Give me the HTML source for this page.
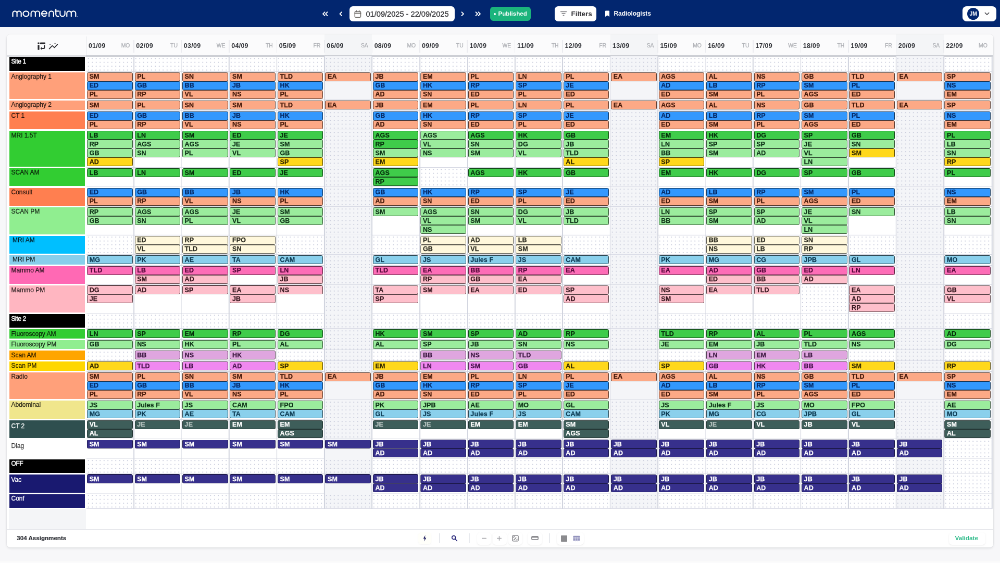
<!DOCTYPE html>
<html><head><meta charset="utf-8"><title>momentum</title><style>

html,body{margin:0;padding:0;background:#f7f7f9;}
body{width:1000px;height:563px;overflow:hidden;position:relative;font-family:"Liberation Sans",sans-serif;}
#root{position:absolute;left:0;top:0;width:1920px;height:1081px;transform:scale(0.520833);transform-origin:0 0;will-change:transform;}
#root div,#root span{position:absolute;box-sizing:border-box;}
.nav{left:0;top:0;width:1920px;height:52.2px;background:#02266f;}
.card{background:#fff;border-radius:6.5px;box-shadow:0 2px 5px rgba(20,25,40,.10),0 0 1.5px rgba(20,25,40,.16);}
.lab{left:18.0px;width:144.8px;font-size:12px;line-height:14px;padding:1.4px 0 0 3.5px;-webkit-text-stroke:0.3px;white-space:nowrap;overflow:hidden;}
.lab.dark{color:rgba(0,0,0,.78);}
.lab.b{font-size:12px;letter-spacing:-0.4px;-webkit-text-stroke:0.5px;}
.c{height:17.0px;width:87.5px;border:1px solid;border-radius:2.5px;font-size:12.5px;line-height:15px;font-weight:bold;padding:0.6px 0 0 3.6px;white-space:nowrap;overflow:hidden;letter-spacing:0.1px;-webkit-text-stroke:0.25px}
.cell{width:91.46px;}
.dots{background-image:radial-gradient(circle,#cbcedd 0.8px,rgba(203,206,221,0) 1.25px);background-size:7.5px 7.4px;}
.sat{background-color:#f4f5f8;}
.vl{width:1.7px;background:#d1d4de;}
.hl{height:1.1px;background:#d9dbe5;}
.hd{font-size:12.5px;font-weight:bold;color:#2f3136;line-height:14px;letter-spacing:0.25px;}
.hw{font-size:10.4px;color:#b0b2b7;-webkit-text-stroke:0.3px;line-height:14px;text-align:right;}

.cS{background:#fca986;border-color:#5a3c30;color:#45190a;}
.cB{background:#3398fd;border-color:#12365b;color:#052a66;}
.cG{background:#3fcc4a;border-color:#16491a;color:#062e0c;}
.cL{background:#9bec9d;border-color:#375438;color:#0f3318;}
.cY{background:#ffd81c;border-color:#5b4d0a;color:#332a00;}
.cC{background:#fff8dc;border-color:#5b594f;color:#2e2d22;}
.cK{background:#8ad0ec;border-color:#314a54;color:#0c3a52;}
.cH{background:#fd6db7;border-color:#5b2741;color:#55083a;}
.cP{background:#febfcb;border-color:#5b4449;color:#3a1a22;}
.cM{background:#dfa6df;border-color:#503b50;color:#3d1a42;}
.cV{background:#f088f0;border-color:#563056;color:#45124a;}
.cD{background:#3e5e5a;border-color:#223331;color:#ffffff;}
.cN{background:#37308c;border-color:#1e1a4d;color:#ffffff;}
</style></head><body><div id="root">
<div class="nav"></div>
<svg style="position:absolute;left:0;top:0;" width="170" height="52" viewBox="0 0 170 52" fill="none" stroke="#fff" stroke-width="2.15" stroke-linecap="round" stroke-linejoin="round">
<path d="M24.5 31.4V25.35a4.05 4.05 0 0 1 8.1 0V31.4M32.6 25.35a4.05 4.05 0 0 1 8.1 0V31.4"/>
<ellipse cx="49.9" cy="26.35" rx="5.5" ry="5.05"/>
<path d="M59.6 31.4V25.4a4.12 4.12 0 0 1 8.25 0V31.4M67.85 25.4a4.12 4.12 0 0 1 8.25 0V31.4"/>
<path d="M80 26.35H90A5.05 5.05 0 1 0 88.4 30"/>
<path d="M94.2 31.4V25.65a4.35 4.35 0 0 1 8.7 0V31.4"/>
<path d="M107.2 17.8V27.6a3.8 3.8 0 0 0 3.8 3.8H112.4M105.9 21.4H112.4"/>
<path d="M115.3 21.3V26.75a4.65 4.65 0 0 0 9.3 0V21.3"/>
<path d="M128.3 31.4V25.55a4.25 4.25 0 0 1 8.5 0V31.4M136.8 25.55a4.25 4.25 0 0 1 8.5 0V31.4"/>
<circle cx="148.3" cy="31.8" r="0.3" stroke-width="0.8" stroke="#8fa0cc"/>
</svg>
<!-- nav arrows -->
<svg style="position:absolute;left:600px;top:0;" width="340" height="52" viewBox="600 0 340 52" fill="none" stroke="#fff" stroke-width="1.9" stroke-linecap="round" stroke-linejoin="round">
<path d="M623.5 23.2L620 26.6L623.5 30M628.5 23.2L625 26.6L628.5 30"/>
<path d="M656 23.2L652.5 26.6L656 30"/>
<path d="M886.5 23.2L890 26.6L886.5 30"/>
<path d="M913.5 23.2L917 26.6L913.5 30M918.5 23.2L922 26.6L918.5 30"/>
</svg>
<div style="left:670.5px;top:12px;width:202.5px;height:28.5px;background:#fff;border-radius:6.5px;"></div>
<svg style="position:absolute;left:680px;top:19.2px;" width="14" height="16" viewBox="0 0 14 16" fill="none" stroke="#6e6a66" stroke-width="1.5" stroke-linejoin="round" stroke-linecap="round"><rect x="1.3" y="3" width="11.2" height="11.2" rx="1.6"/><path d="M1.3 6.4H12.5" stroke-width="1.8"/><path d="M4.2 1.3V3.4M9.6 1.3V3.4"/></svg>
<div style="left:702.5px;top:17.5px;font-size:14.6px;line-height:18px;color:#3a3a3d;white-space:nowrap;-webkit-text-stroke:0.35px #3a3a3d;">01/09/2025 - 22/09/2025</div>
<div style="left:940.5px;top:13px;width:78.5px;height:27px;background:#1bb47c;border-radius:6px;"></div>
<div style="left:947.5px;top:24.6px;width:4.2px;height:4.2px;border-radius:50%;background:#fff;"></div>
<div style="left:956.5px;top:18px;font-size:11.6px;line-height:16px;font-weight:bold;color:#fff;white-space:nowrap;">Published</div>
<div style="left:1065px;top:12px;width:80px;height:28.5px;background:#fff;border-radius:6.5px;"></div>
<svg style="position:absolute;left:1075px;top:20px;" width="14" height="12" viewBox="0 0 14 12" fill="none" stroke="#77777c" stroke-width="1.5" stroke-linecap="round"><path d="M1.6 2.4H12.4M4 6H10M6.2 9.6H7.8"/></svg>
<div style="left:1096.5px;top:17.5px;font-size:13.4px;line-height:18px;font-weight:bold;color:#2e2e33;white-space:nowrap;">Filters</div>
<svg style="position:absolute;left:1161px;top:20px;" width="10" height="13" viewBox="0 0 10 13"><path d="M1 1.6a1.2 1.2 0 0 1 1.2-1.2H7.8a1.2 1.2 0 0 1 1.2 1.2V12L5 9.6L1 12Z" fill="#fff"/></svg>
<div style="left:1178.5px;top:18px;font-size:11.9px;line-height:17px;font-weight:bold;color:#fff;white-space:nowrap;">Radiologists</div>
<div style="left:1848px;top:12px;width:64.5px;height:28.5px;background:#fff;border-radius:8px;"></div>
<div style="left:1857px;top:14.8px;width:23.2px;height:23.2px;border-radius:50%;background:#02266f;color:#fff;font-size:10.4px;font-weight:bold;line-height:23.2px;text-align:center;">JM</div>
<svg style="position:absolute;left:1889px;top:22px;" width="12" height="9" viewBox="0 0 12 9" fill="none" stroke="#55555a" stroke-width="1.7" stroke-linecap="round" stroke-linejoin="round"><path d="M2.4 2.6L6 6.1L9.6 2.6"/></svg>

<div class="card" style="left:13.2px;top:66.0px;width:1893.6px;height:985.2px;"></div>
<div style="left:13.2px;top:66.0px;width:1893.6px;height:40.6px;background:#fbfbfc;border-radius:6.5px 6.5px 0 0;"></div>
<div style="left:164.70px;top:70.0px;width:1.6px;height:37.0px;background:#e4e5e9;"></div>
<div class="hd" style="left:169.90px;top:80.5px;">01/09</div>
<div class="hw" style="left:219.46px;top:81.0px;width:30px;">MO</div>
<div style="left:256.26px;top:77.0px;width:1.5px;height:24.0px;background:#ebecf0;"></div>
<div class="hd" style="left:261.36px;top:80.5px;">02/09</div>
<div class="hw" style="left:310.92px;top:81.0px;width:30px;">TU</div>
<div style="left:347.72px;top:77.0px;width:1.5px;height:24.0px;background:#ebecf0;"></div>
<div class="hd" style="left:352.82px;top:80.5px;">03/09</div>
<div class="hw" style="left:402.38px;top:81.0px;width:30px;">WE</div>
<div style="left:439.18px;top:77.0px;width:1.5px;height:24.0px;background:#ebecf0;"></div>
<div class="hd" style="left:444.28px;top:80.5px;">04/09</div>
<div class="hw" style="left:493.84px;top:81.0px;width:30px;">TH</div>
<div style="left:530.64px;top:77.0px;width:1.5px;height:24.0px;background:#ebecf0;"></div>
<div class="hd" style="left:535.74px;top:80.5px;">05/09</div>
<div class="hw" style="left:585.30px;top:81.0px;width:30px;">FR</div>
<div style="left:622.80px;top:66.0px;width:91.46px;height:40.6px;background:#f4f5f7;"></div>
<div style="left:622.10px;top:77.0px;width:1.5px;height:24.0px;background:#ebecf0;"></div>
<div class="hd" style="left:627.20px;top:80.5px;">06/09</div>
<div class="hw" style="left:676.76px;top:81.0px;width:30px;">SA</div>
<div style="left:713.56px;top:77.0px;width:1.5px;height:24.0px;background:#ebecf0;"></div>
<div class="hd" style="left:718.66px;top:80.5px;">08/09</div>
<div class="hw" style="left:768.22px;top:81.0px;width:30px;">MO</div>
<div style="left:805.02px;top:77.0px;width:1.5px;height:24.0px;background:#ebecf0;"></div>
<div class="hd" style="left:810.12px;top:80.5px;">09/09</div>
<div class="hw" style="left:859.68px;top:81.0px;width:30px;">TU</div>
<div style="left:896.48px;top:77.0px;width:1.5px;height:24.0px;background:#ebecf0;"></div>
<div class="hd" style="left:901.58px;top:80.5px;">10/09</div>
<div class="hw" style="left:951.14px;top:81.0px;width:30px;">WE</div>
<div style="left:987.94px;top:77.0px;width:1.5px;height:24.0px;background:#ebecf0;"></div>
<div class="hd" style="left:993.04px;top:80.5px;">11/09</div>
<div class="hw" style="left:1042.60px;top:81.0px;width:30px;">TH</div>
<div style="left:1079.40px;top:77.0px;width:1.5px;height:24.0px;background:#ebecf0;"></div>
<div class="hd" style="left:1084.50px;top:80.5px;">12/09</div>
<div class="hw" style="left:1134.06px;top:81.0px;width:30px;">FR</div>
<div style="left:1171.56px;top:66.0px;width:91.46px;height:40.6px;background:#f4f5f7;"></div>
<div style="left:1170.86px;top:77.0px;width:1.5px;height:24.0px;background:#ebecf0;"></div>
<div class="hd" style="left:1175.96px;top:80.5px;">13/09</div>
<div class="hw" style="left:1225.52px;top:81.0px;width:30px;">SA</div>
<div style="left:1262.32px;top:77.0px;width:1.5px;height:24.0px;background:#ebecf0;"></div>
<div class="hd" style="left:1267.42px;top:80.5px;">15/09</div>
<div class="hw" style="left:1316.98px;top:81.0px;width:30px;">MO</div>
<div style="left:1353.78px;top:77.0px;width:1.5px;height:24.0px;background:#ebecf0;"></div>
<div class="hd" style="left:1358.88px;top:80.5px;">16/09</div>
<div class="hw" style="left:1408.44px;top:81.0px;width:30px;">TU</div>
<div style="left:1445.24px;top:77.0px;width:1.5px;height:24.0px;background:#ebecf0;"></div>
<div class="hd" style="left:1450.34px;top:80.5px;">17/09</div>
<div class="hw" style="left:1499.90px;top:81.0px;width:30px;">WE</div>
<div style="left:1536.70px;top:77.0px;width:1.5px;height:24.0px;background:#ebecf0;"></div>
<div class="hd" style="left:1541.80px;top:80.5px;">18/09</div>
<div class="hw" style="left:1591.36px;top:81.0px;width:30px;">TH</div>
<div style="left:1628.16px;top:77.0px;width:1.5px;height:24.0px;background:#ebecf0;"></div>
<div class="hd" style="left:1633.26px;top:80.5px;">19/09</div>
<div class="hw" style="left:1682.82px;top:81.0px;width:30px;">FR</div>
<div style="left:1720.32px;top:66.0px;width:91.46px;height:40.6px;background:#f4f5f7;"></div>
<div style="left:1719.62px;top:77.0px;width:1.5px;height:24.0px;background:#ebecf0;"></div>
<div class="hd" style="left:1724.72px;top:80.5px;">20/09</div>
<div class="hw" style="left:1774.28px;top:81.0px;width:30px;">SA</div>
<div style="left:1811.08px;top:77.0px;width:1.5px;height:24.0px;background:#ebecf0;"></div>
<div class="hd" style="left:1816.18px;top:80.5px;">22/09</div>
<div class="hw" style="left:1865.74px;top:81.0px;width:30px;">MO</div>
<svg style="position:absolute;left:71px;top:80px;" width="18" height="18" viewBox="0 0 18 18" fill="#2a2a2e"><rect x="1.4" y="1.6" width="3.2" height="3.2" rx=".5"/><rect x="6" y="1.6" width="10" height="3.2" rx=".8"/><rect x="1.4" y="6.2" width="3.2" height="9.6" rx=".8"/><path d="M13.2 6.4h2v5.6a2 2 0 0 1-2 2H9.6v1.9L6.4 13l3.2-2.9V12h3.6Z"/><path d="M12.3 9.5L14.2 7l1.9 2.5Z" transform="translate(0 1.2)"/></svg>
<svg style="position:absolute;left:92px;top:80px;" width="22" height="18" viewBox="0 0 22 18" fill="none" stroke="#2a2a2e" stroke-width="1.7" stroke-linecap="round" stroke-linejoin="round"><path d="M2.6 13.6L8.4 7.6L12.4 11.4L18.4 5.2"/><circle cx="13.4" cy="3.2" r=".5" stroke-width="1"/><circle cx="4" cy="5.4" r=".3" stroke-width=".8"/></svg>
<div style="left:13.2px;top:106.2px;width:152.3px;height:2.6px;background:#dedfe3;"></div>
<div style="left:164.5px;top:106.2px;width:1741.1px;height:2.8px;background:#cdcfd5;"></div>
<div class="lab b" style="top:109.20px;height:26.55px;background:#000000;color:#ffffff;padding-top:1.4px;">Site 1</div>
<div class="cell dots" style="left:165.50px;top:107.70px;height:29.55px;background-position:0.0px 0.6px;"></div>
<div class="cell dots" style="left:256.96px;top:107.70px;height:29.55px;background-position:0.0px 0.6px;"></div>
<div class="cell dots" style="left:348.42px;top:107.70px;height:29.55px;background-position:0.0px 0.6px;"></div>
<div class="cell dots" style="left:439.88px;top:107.70px;height:29.55px;background-position:0.0px 0.6px;"></div>
<div class="cell dots" style="left:531.34px;top:107.70px;height:29.55px;background-position:0.0px 0.6px;"></div>
<div class="cell dots sat" style="left:622.80px;top:107.70px;height:29.55px;background-position:0.0px 0.6px;"></div>
<div class="cell dots" style="left:714.26px;top:107.70px;height:29.55px;background-position:0.0px 0.6px;"></div>
<div class="cell dots" style="left:805.72px;top:107.70px;height:29.55px;background-position:0.0px 0.6px;"></div>
<div class="cell dots" style="left:897.18px;top:107.70px;height:29.55px;background-position:0.0px 0.6px;"></div>
<div class="cell dots" style="left:988.64px;top:107.70px;height:29.55px;background-position:0.0px 0.6px;"></div>
<div class="cell dots" style="left:1080.10px;top:107.70px;height:29.55px;background-position:0.0px 0.6px;"></div>
<div class="cell dots sat" style="left:1171.56px;top:107.70px;height:29.55px;background-position:0.0px 0.6px;"></div>
<div class="cell dots" style="left:1263.02px;top:107.70px;height:29.55px;background-position:0.0px 0.6px;"></div>
<div class="cell dots" style="left:1354.48px;top:107.70px;height:29.55px;background-position:0.0px 0.6px;"></div>
<div class="cell dots" style="left:1445.94px;top:107.70px;height:29.55px;background-position:0.0px 0.6px;"></div>
<div class="cell dots" style="left:1537.40px;top:107.70px;height:29.55px;background-position:0.0px 0.6px;"></div>
<div class="cell dots" style="left:1628.86px;top:107.70px;height:29.55px;background-position:0.0px 0.6px;"></div>
<div class="cell dots sat" style="left:1720.32px;top:107.70px;height:29.55px;background-position:0.0px 0.6px;"></div>
<div class="cell dots" style="left:1811.78px;top:107.70px;height:29.55px;background-position:0.0px 0.6px;width:92.86px;"></div>
<div class="hl" style="left:165.50px;top:136.65px;width:1739.14px;"></div>
<div class="lab dark" style="top:138.75px;height:51.55px;background:lightsalmon;">Angiography 1</div>
<div class="c cS" style="left:167.10px;top:138.75px;">SM</div>
<div class="c cB" style="left:167.10px;top:155.75px;">ED</div>
<div class="c cS" style="left:167.10px;top:172.75px;">PL</div>
<div class="c cS" style="left:258.56px;top:138.75px;">PL</div>
<div class="c cB" style="left:258.56px;top:155.75px;">GB</div>
<div class="c cS" style="left:258.56px;top:172.75px;">RP</div>
<div class="c cS" style="left:350.02px;top:138.75px;">SN</div>
<div class="c cB" style="left:350.02px;top:155.75px;">BB</div>
<div class="c cS" style="left:350.02px;top:172.75px;">VL</div>
<div class="c cS" style="left:441.48px;top:138.75px;">SM</div>
<div class="c cB" style="left:441.48px;top:155.75px;">JB</div>
<div class="c cS" style="left:441.48px;top:172.75px;">NS</div>
<div class="c cS" style="left:532.94px;top:138.75px;">TLD</div>
<div class="c cB" style="left:532.94px;top:155.75px;">HK</div>
<div class="c cS" style="left:532.94px;top:172.75px;">PL</div>
<div class="cell sat" style="left:622.80px;top:137.25px;height:54.55px;background-position:0.0px 0.6px;"></div>
<div class="c cS" style="left:624.40px;top:138.75px;">EA</div>
<div class="c cS" style="left:715.86px;top:138.75px;">JB</div>
<div class="c cB" style="left:715.86px;top:155.75px;">GB</div>
<div class="c cS" style="left:715.86px;top:172.75px;">AD</div>
<div class="c cS" style="left:807.32px;top:138.75px;">EM</div>
<div class="c cB" style="left:807.32px;top:155.75px;">HK</div>
<div class="c cS" style="left:807.32px;top:172.75px;">SN</div>
<div class="c cS" style="left:898.78px;top:138.75px;">PL</div>
<div class="c cB" style="left:898.78px;top:155.75px;">RP</div>
<div class="c cS" style="left:898.78px;top:172.75px;">ED</div>
<div class="c cS" style="left:990.24px;top:138.75px;">LN</div>
<div class="c cB" style="left:990.24px;top:155.75px;">SP</div>
<div class="c cS" style="left:990.24px;top:172.75px;">PL</div>
<div class="c cS" style="left:1081.70px;top:138.75px;">PL</div>
<div class="c cB" style="left:1081.70px;top:155.75px;">JE</div>
<div class="c cS" style="left:1081.70px;top:172.75px;">ED</div>
<div class="cell sat" style="left:1171.56px;top:137.25px;height:54.55px;background-position:0.0px 0.6px;"></div>
<div class="c cS" style="left:1173.16px;top:138.75px;">EA</div>
<div class="c cS" style="left:1264.62px;top:138.75px;">AGS</div>
<div class="c cB" style="left:1264.62px;top:155.75px;">AD</div>
<div class="c cS" style="left:1264.62px;top:172.75px;">ED</div>
<div class="c cS" style="left:1356.08px;top:138.75px;">AL</div>
<div class="c cB" style="left:1356.08px;top:155.75px;">LB</div>
<div class="c cS" style="left:1356.08px;top:172.75px;">SM</div>
<div class="c cS" style="left:1447.54px;top:138.75px;">NS</div>
<div class="c cB" style="left:1447.54px;top:155.75px;">RP</div>
<div class="c cS" style="left:1447.54px;top:172.75px;">PL</div>
<div class="c cS" style="left:1539.00px;top:138.75px;">GB</div>
<div class="c cB" style="left:1539.00px;top:155.75px;">SM</div>
<div class="c cS" style="left:1539.00px;top:172.75px;">AGS</div>
<div class="c cS" style="left:1630.46px;top:138.75px;">TLD</div>
<div class="c cB" style="left:1630.46px;top:155.75px;">PL</div>
<div class="c cS" style="left:1630.46px;top:172.75px;">ED</div>
<div class="cell sat" style="left:1720.32px;top:137.25px;height:54.55px;background-position:0.0px 0.6px;"></div>
<div class="c cS" style="left:1721.92px;top:138.75px;">EA</div>
<div class="c cS" style="left:1813.38px;top:138.75px;width:88.90px;">SP</div>
<div class="c cB" style="left:1813.38px;top:155.75px;width:88.90px;">NS</div>
<div class="c cS" style="left:1813.38px;top:172.75px;width:88.90px;">EM</div>
<div class="hl" style="left:165.50px;top:191.20px;width:1739.14px;"></div>
<div class="lab dark" style="top:193.30px;height:17.55px;background:lightsalmon;padding-top:1.2px;">Angiography 2</div>
<div class="c cS" style="left:167.10px;top:193.30px;">SM</div>
<div class="c cS" style="left:258.56px;top:193.30px;">PL</div>
<div class="c cS" style="left:350.02px;top:193.30px;">SN</div>
<div class="c cS" style="left:441.48px;top:193.30px;">SM</div>
<div class="c cS" style="left:532.94px;top:193.30px;">TLD</div>
<div class="cell sat" style="left:622.80px;top:191.80px;height:20.55px;background-position:0.0px 0.6px;"></div>
<div class="c cS" style="left:624.40px;top:193.30px;">EA</div>
<div class="c cS" style="left:715.86px;top:193.30px;">JB</div>
<div class="c cS" style="left:807.32px;top:193.30px;">EM</div>
<div class="c cS" style="left:898.78px;top:193.30px;">PL</div>
<div class="c cS" style="left:990.24px;top:193.30px;">LN</div>
<div class="c cS" style="left:1081.70px;top:193.30px;">PL</div>
<div class="cell sat" style="left:1171.56px;top:191.80px;height:20.55px;background-position:0.0px 0.6px;"></div>
<div class="c cS" style="left:1173.16px;top:193.30px;">EA</div>
<div class="c cS" style="left:1264.62px;top:193.30px;">AGS</div>
<div class="c cS" style="left:1356.08px;top:193.30px;">AL</div>
<div class="c cS" style="left:1447.54px;top:193.30px;">NS</div>
<div class="c cS" style="left:1539.00px;top:193.30px;">GB</div>
<div class="c cS" style="left:1630.46px;top:193.30px;">TLD</div>
<div class="cell sat" style="left:1720.32px;top:191.80px;height:20.55px;background-position:0.0px 0.6px;"></div>
<div class="c cS" style="left:1721.92px;top:193.30px;">EA</div>
<div class="c cS" style="left:1813.38px;top:193.30px;width:88.90px;">SP</div>
<div class="hl" style="left:165.50px;top:211.75px;width:1739.14px;"></div>
<div class="lab dark" style="top:213.85px;height:34.55px;background:coral;">CT 1</div>
<div class="c cB" style="left:167.10px;top:213.85px;">ED</div>
<div class="c cS" style="left:167.10px;top:230.85px;">PL</div>
<div class="c cB" style="left:258.56px;top:213.85px;">GB</div>
<div class="c cS" style="left:258.56px;top:230.85px;">RP</div>
<div class="c cB" style="left:350.02px;top:213.85px;">BB</div>
<div class="c cS" style="left:350.02px;top:230.85px;">VL</div>
<div class="c cB" style="left:441.48px;top:213.85px;">JB</div>
<div class="c cS" style="left:441.48px;top:230.85px;">NS</div>
<div class="c cB" style="left:532.94px;top:213.85px;">HK</div>
<div class="c cS" style="left:532.94px;top:230.85px;">PL</div>
<div class="cell dots sat" style="left:622.80px;top:212.35px;height:37.55px;background-position:0.0px 0.6px;"></div>
<div class="c cB" style="left:715.86px;top:213.85px;">GB</div>
<div class="c cS" style="left:715.86px;top:230.85px;">AD</div>
<div class="c cB" style="left:807.32px;top:213.85px;">HK</div>
<div class="c cS" style="left:807.32px;top:230.85px;">SN</div>
<div class="c cB" style="left:898.78px;top:213.85px;">RP</div>
<div class="c cS" style="left:898.78px;top:230.85px;">ED</div>
<div class="c cB" style="left:990.24px;top:213.85px;">SP</div>
<div class="c cS" style="left:990.24px;top:230.85px;">PL</div>
<div class="c cB" style="left:1081.70px;top:213.85px;">JE</div>
<div class="c cS" style="left:1081.70px;top:230.85px;">ED</div>
<div class="cell dots sat" style="left:1171.56px;top:212.35px;height:37.55px;background-position:0.0px 0.6px;"></div>
<div class="c cB" style="left:1264.62px;top:213.85px;">AD</div>
<div class="c cS" style="left:1264.62px;top:230.85px;">ED</div>
<div class="c cB" style="left:1356.08px;top:213.85px;">LB</div>
<div class="c cS" style="left:1356.08px;top:230.85px;">SM</div>
<div class="c cB" style="left:1447.54px;top:213.85px;">RP</div>
<div class="c cS" style="left:1447.54px;top:230.85px;">PL</div>
<div class="c cB" style="left:1539.00px;top:213.85px;">SM</div>
<div class="c cS" style="left:1539.00px;top:230.85px;">AGS</div>
<div class="c cB" style="left:1630.46px;top:213.85px;">PL</div>
<div class="c cS" style="left:1630.46px;top:230.85px;">ED</div>
<div class="cell dots sat" style="left:1720.32px;top:212.35px;height:37.55px;background-position:0.0px 0.6px;"></div>
<div class="c cB" style="left:1813.38px;top:213.85px;width:88.90px;">NS</div>
<div class="c cS" style="left:1813.38px;top:230.85px;width:88.90px;">EM</div>
<div class="hl" style="left:165.50px;top:249.30px;width:1739.14px;"></div>
<div class="lab dark" style="top:251.40px;height:68.55px;background:limegreen;">MRI 1.5T</div>
<div class="c cG" style="left:167.10px;top:251.40px;">LB</div>
<div class="c cL" style="left:167.10px;top:268.40px;">RP</div>
<div class="c cL" style="left:167.10px;top:285.40px;">GB</div>
<div class="c cY" style="left:167.10px;top:302.40px;">AD</div>
<div class="c cG" style="left:258.56px;top:251.40px;">LN</div>
<div class="c cL" style="left:258.56px;top:268.40px;">AGS</div>
<div class="c cL" style="left:258.56px;top:285.40px;">SN</div>
<div class="c cG" style="left:350.02px;top:251.40px;">SM</div>
<div class="c cL" style="left:350.02px;top:268.40px;">AGS</div>
<div class="c cL" style="left:350.02px;top:285.40px;">PL</div>
<div class="c cG" style="left:441.48px;top:251.40px;">ED</div>
<div class="c cL" style="left:441.48px;top:268.40px;">JE</div>
<div class="c cL" style="left:441.48px;top:285.40px;">VL</div>
<div class="c cG" style="left:532.94px;top:251.40px;">JE</div>
<div class="c cL" style="left:532.94px;top:268.40px;">SM</div>
<div class="c cL" style="left:532.94px;top:285.40px;">GB</div>
<div class="c cY" style="left:532.94px;top:302.40px;">SP</div>
<div class="cell dots sat" style="left:622.80px;top:249.90px;height:71.55px;background-position:0.0px 0.6px;"></div>
<div class="c cG" style="left:715.86px;top:251.40px;">AGS</div>
<div class="c cG" style="left:715.86px;top:268.40px;">RP</div>
<div class="c cL" style="left:715.86px;top:285.40px;">SM</div>
<div class="c cY" style="left:715.86px;top:302.40px;">EM</div>
<div class="c cL" style="left:807.32px;top:251.40px;">AGS</div>
<div class="c cL" style="left:807.32px;top:268.40px;">VL</div>
<div class="c cL" style="left:807.32px;top:285.40px;">NS</div>
<div class="c cG" style="left:898.78px;top:251.40px;">AGS</div>
<div class="c cL" style="left:898.78px;top:268.40px;">SN</div>
<div class="c cL" style="left:898.78px;top:285.40px;">SM</div>
<div class="c cG" style="left:990.24px;top:251.40px;">HK</div>
<div class="c cL" style="left:990.24px;top:268.40px;">DG</div>
<div class="c cL" style="left:990.24px;top:285.40px;">VL</div>
<div class="c cG" style="left:1081.70px;top:251.40px;">GB</div>
<div class="c cL" style="left:1081.70px;top:268.40px;">JB</div>
<div class="c cL" style="left:1081.70px;top:285.40px;">TLD</div>
<div class="c cY" style="left:1081.70px;top:302.40px;">AL</div>
<div class="cell dots sat" style="left:1171.56px;top:249.90px;height:71.55px;background-position:0.0px 0.6px;"></div>
<div class="c cG" style="left:1264.62px;top:251.40px;">EM</div>
<div class="c cL" style="left:1264.62px;top:268.40px;">LN</div>
<div class="c cL" style="left:1264.62px;top:285.40px;">BB</div>
<div class="c cY" style="left:1264.62px;top:302.40px;">SP</div>
<div class="c cG" style="left:1356.08px;top:251.40px;">HK</div>
<div class="c cL" style="left:1356.08px;top:268.40px;">SP</div>
<div class="c cL" style="left:1356.08px;top:285.40px;">SM</div>
<div class="c cG" style="left:1447.54px;top:251.40px;">DG</div>
<div class="c cL" style="left:1447.54px;top:268.40px;">SP</div>
<div class="c cL" style="left:1447.54px;top:285.40px;">AD</div>
<div class="c cG" style="left:1539.00px;top:251.40px;">SP</div>
<div class="c cL" style="left:1539.00px;top:268.40px;">JE</div>
<div class="c cL" style="left:1539.00px;top:285.40px;">VL</div>
<div class="c cL" style="left:1539.00px;top:302.40px;">LN</div>
<div class="c cG" style="left:1630.46px;top:251.40px;">GB</div>
<div class="c cL" style="left:1630.46px;top:268.40px;">SN</div>
<div class="c cY" style="left:1630.46px;top:285.40px;">SM</div>
<div class="cell dots sat" style="left:1720.32px;top:249.90px;height:71.55px;background-position:0.0px 0.6px;"></div>
<div class="c cG" style="left:1813.38px;top:251.40px;width:88.90px;">PL</div>
<div class="c cL" style="left:1813.38px;top:268.40px;width:88.90px;">LB</div>
<div class="c cL" style="left:1813.38px;top:285.40px;width:88.90px;">SN</div>
<div class="c cY" style="left:1813.38px;top:302.40px;width:88.90px;">RP</div>
<div class="hl" style="left:165.50px;top:320.85px;width:1739.14px;"></div>
<div class="lab dark" style="top:322.95px;height:34.55px;background:limegreen;">SCAN AM</div>
<div class="c cG" style="left:167.10px;top:322.95px;">LB</div>
<div class="c cG" style="left:258.56px;top:322.95px;">LN</div>
<div class="c cG" style="left:350.02px;top:322.95px;">SM</div>
<div class="c cG" style="left:441.48px;top:322.95px;">ED</div>
<div class="c cG" style="left:532.94px;top:322.95px;">JE</div>
<div class="cell dots sat" style="left:622.80px;top:321.45px;height:37.55px;background-position:0.0px 0.6px;"></div>
<div class="c cG" style="left:715.86px;top:322.95px;">AGS</div>
<div class="c cG" style="left:715.86px;top:339.95px;">RP</div>
<div class="cell dots" style="left:805.72px;top:321.45px;height:37.55px;background-position:0.0px 0.6px;"></div>
<div class="c cG" style="left:898.78px;top:322.95px;">AGS</div>
<div class="c cG" style="left:990.24px;top:322.95px;">HK</div>
<div class="c cG" style="left:1081.70px;top:322.95px;">GB</div>
<div class="cell dots sat" style="left:1171.56px;top:321.45px;height:37.55px;background-position:0.0px 0.6px;"></div>
<div class="c cG" style="left:1264.62px;top:322.95px;">EM</div>
<div class="c cG" style="left:1356.08px;top:322.95px;">HK</div>
<div class="c cG" style="left:1447.54px;top:322.95px;">DG</div>
<div class="c cG" style="left:1539.00px;top:322.95px;">SP</div>
<div class="c cG" style="left:1630.46px;top:322.95px;">GB</div>
<div class="cell dots sat" style="left:1720.32px;top:321.45px;height:37.55px;background-position:0.0px 0.6px;"></div>
<div class="c cG" style="left:1813.38px;top:322.95px;width:88.90px;">PL</div>
<div class="hl" style="left:165.50px;top:358.40px;width:1739.14px;"></div>
<div class="lab dark" style="top:360.50px;height:34.55px;background:coral;">Consult</div>
<div class="c cB" style="left:167.10px;top:360.50px;">ED</div>
<div class="c cS" style="left:167.10px;top:377.50px;">PL</div>
<div class="c cB" style="left:258.56px;top:360.50px;">GB</div>
<div class="c cS" style="left:258.56px;top:377.50px;">RP</div>
<div class="c cB" style="left:350.02px;top:360.50px;">BB</div>
<div class="c cS" style="left:350.02px;top:377.50px;">VL</div>
<div class="c cB" style="left:441.48px;top:360.50px;">JB</div>
<div class="c cS" style="left:441.48px;top:377.50px;">NS</div>
<div class="c cB" style="left:532.94px;top:360.50px;">HK</div>
<div class="c cS" style="left:532.94px;top:377.50px;">PL</div>
<div class="cell dots sat" style="left:622.80px;top:359.00px;height:37.55px;background-position:0.0px 0.6px;"></div>
<div class="c cB" style="left:715.86px;top:360.50px;">GB</div>
<div class="c cS" style="left:715.86px;top:377.50px;">AD</div>
<div class="c cB" style="left:807.32px;top:360.50px;">HK</div>
<div class="c cS" style="left:807.32px;top:377.50px;">SN</div>
<div class="c cB" style="left:898.78px;top:360.50px;">RP</div>
<div class="c cS" style="left:898.78px;top:377.50px;">ED</div>
<div class="c cB" style="left:990.24px;top:360.50px;">SP</div>
<div class="c cS" style="left:990.24px;top:377.50px;">PL</div>
<div class="c cB" style="left:1081.70px;top:360.50px;">JE</div>
<div class="c cS" style="left:1081.70px;top:377.50px;">ED</div>
<div class="cell dots sat" style="left:1171.56px;top:359.00px;height:37.55px;background-position:0.0px 0.6px;"></div>
<div class="c cB" style="left:1264.62px;top:360.50px;">AD</div>
<div class="c cS" style="left:1264.62px;top:377.50px;">ED</div>
<div class="c cB" style="left:1356.08px;top:360.50px;">LB</div>
<div class="c cS" style="left:1356.08px;top:377.50px;">SM</div>
<div class="c cB" style="left:1447.54px;top:360.50px;">RP</div>
<div class="c cS" style="left:1447.54px;top:377.50px;">PL</div>
<div class="c cB" style="left:1539.00px;top:360.50px;">SM</div>
<div class="c cS" style="left:1539.00px;top:377.50px;">AGS</div>
<div class="c cB" style="left:1630.46px;top:360.50px;">PL</div>
<div class="c cS" style="left:1630.46px;top:377.50px;">ED</div>
<div class="cell dots sat" style="left:1720.32px;top:359.00px;height:37.55px;background-position:0.0px 0.6px;"></div>
<div class="c cB" style="left:1813.38px;top:360.50px;width:88.90px;">NS</div>
<div class="c cS" style="left:1813.38px;top:377.50px;width:88.90px;">EM</div>
<div class="hl" style="left:165.50px;top:395.95px;width:1739.14px;"></div>
<div class="lab dark" style="top:398.05px;height:51.55px;background:lightgreen;">SCAN PM</div>
<div class="c cL" style="left:167.10px;top:398.05px;">RP</div>
<div class="c cL" style="left:167.10px;top:415.05px;">GB</div>
<div class="c cL" style="left:258.56px;top:398.05px;">AGS</div>
<div class="c cL" style="left:258.56px;top:415.05px;">SN</div>
<div class="c cL" style="left:350.02px;top:398.05px;">AGS</div>
<div class="c cL" style="left:350.02px;top:415.05px;">PL</div>
<div class="c cL" style="left:441.48px;top:398.05px;">JE</div>
<div class="c cL" style="left:441.48px;top:415.05px;">VL</div>
<div class="c cL" style="left:532.94px;top:398.05px;">SM</div>
<div class="c cL" style="left:532.94px;top:415.05px;">GB</div>
<div class="cell dots sat" style="left:622.80px;top:396.55px;height:54.55px;background-position:0.0px 0.6px;"></div>
<div class="c cL" style="left:715.86px;top:398.05px;">SM</div>
<div class="c cL" style="left:807.32px;top:398.05px;">AGS</div>
<div class="c cL" style="left:807.32px;top:415.05px;">VL</div>
<div class="c cL" style="left:807.32px;top:432.05px;">NS</div>
<div class="c cL" style="left:898.78px;top:398.05px;">SN</div>
<div class="c cL" style="left:898.78px;top:415.05px;">SM</div>
<div class="c cL" style="left:990.24px;top:398.05px;">DG</div>
<div class="c cL" style="left:990.24px;top:415.05px;">VL</div>
<div class="c cL" style="left:1081.70px;top:398.05px;">JB</div>
<div class="c cL" style="left:1081.70px;top:415.05px;">TLD</div>
<div class="cell dots sat" style="left:1171.56px;top:396.55px;height:54.55px;background-position:0.0px 0.6px;"></div>
<div class="c cL" style="left:1264.62px;top:398.05px;">LN</div>
<div class="c cL" style="left:1264.62px;top:415.05px;">BB</div>
<div class="c cL" style="left:1356.08px;top:398.05px;">SP</div>
<div class="c cL" style="left:1356.08px;top:415.05px;">SM</div>
<div class="c cL" style="left:1447.54px;top:398.05px;">SP</div>
<div class="c cL" style="left:1447.54px;top:415.05px;">AD</div>
<div class="c cL" style="left:1539.00px;top:398.05px;">JE</div>
<div class="c cL" style="left:1539.00px;top:415.05px;">VL</div>
<div class="c cL" style="left:1539.00px;top:432.05px;">LN</div>
<div class="c cL" style="left:1630.46px;top:398.05px;">SN</div>
<div class="cell dots sat" style="left:1720.32px;top:396.55px;height:54.55px;background-position:0.0px 0.6px;"></div>
<div class="c cL" style="left:1813.38px;top:398.05px;width:88.90px;">LB</div>
<div class="c cL" style="left:1813.38px;top:415.05px;width:88.90px;">SN</div>
<div class="hl" style="left:165.50px;top:450.50px;width:1739.14px;"></div>
<div class="lab dark" style="top:452.60px;height:34.55px;background:deepskyblue;padding-left:6px;">MRI AM</div>
<div class="cell dots" style="left:165.50px;top:451.10px;height:37.55px;background-position:0.0px 0.6px;"></div>
<div class="c cC" style="left:258.56px;top:452.60px;">ED</div>
<div class="c cC" style="left:258.56px;top:469.60px;">VL</div>
<div class="c cC" style="left:350.02px;top:452.60px;">RP</div>
<div class="c cC" style="left:350.02px;top:469.60px;">TLD</div>
<div class="c cC" style="left:441.48px;top:452.60px;">FPO</div>
<div class="c cC" style="left:441.48px;top:469.60px;">SN</div>
<div class="cell dots" style="left:531.34px;top:451.10px;height:37.55px;background-position:0.0px 0.6px;"></div>
<div class="cell dots sat" style="left:622.80px;top:451.10px;height:37.55px;background-position:0.0px 0.6px;"></div>
<div class="cell dots" style="left:714.26px;top:451.10px;height:37.55px;background-position:0.0px 0.6px;"></div>
<div class="c cC" style="left:807.32px;top:452.60px;">PL</div>
<div class="c cC" style="left:807.32px;top:469.60px;">GB</div>
<div class="c cC" style="left:898.78px;top:452.60px;">AD</div>
<div class="c cC" style="left:898.78px;top:469.60px;">VL</div>
<div class="c cC" style="left:990.24px;top:452.60px;">LB</div>
<div class="c cC" style="left:990.24px;top:469.60px;">SM</div>
<div class="cell dots" style="left:1080.10px;top:451.10px;height:37.55px;background-position:0.0px 0.6px;"></div>
<div class="cell dots sat" style="left:1171.56px;top:451.10px;height:37.55px;background-position:0.0px 0.6px;"></div>
<div class="cell dots" style="left:1263.02px;top:451.10px;height:37.55px;background-position:0.0px 0.6px;"></div>
<div class="c cC" style="left:1356.08px;top:452.60px;">BB</div>
<div class="c cC" style="left:1356.08px;top:469.60px;">NS</div>
<div class="c cC" style="left:1447.54px;top:452.60px;">ED</div>
<div class="c cC" style="left:1447.54px;top:469.60px;">LB</div>
<div class="c cC" style="left:1539.00px;top:452.60px;">SN</div>
<div class="c cC" style="left:1539.00px;top:469.60px;">RP</div>
<div class="cell dots" style="left:1628.86px;top:451.10px;height:37.55px;background-position:0.0px 0.6px;"></div>
<div class="cell dots sat" style="left:1720.32px;top:451.10px;height:37.55px;background-position:0.0px 0.6px;"></div>
<div class="cell dots" style="left:1811.78px;top:451.10px;height:37.55px;background-position:0.0px 0.6px;width:92.86px;"></div>
<div class="hl" style="left:165.50px;top:488.05px;width:1739.14px;"></div>
<div class="lab dark" style="top:490.15px;height:17.55px;background:skyblue;padding-left:6px;padding-top:1.2px;">MRI PM</div>
<div class="c cK" style="left:167.10px;top:490.15px;">MG</div>
<div class="c cK" style="left:258.56px;top:490.15px;">PK</div>
<div class="c cK" style="left:350.02px;top:490.15px;">AE</div>
<div class="c cK" style="left:441.48px;top:490.15px;">TA</div>
<div class="c cK" style="left:532.94px;top:490.15px;">CAM</div>
<div class="cell dots sat" style="left:622.80px;top:488.65px;height:20.55px;background-position:0.0px 0.6px;"></div>
<div class="c cK" style="left:715.86px;top:490.15px;">GL</div>
<div class="c cK" style="left:807.32px;top:490.15px;">JS</div>
<div class="c cK" style="left:898.78px;top:490.15px;">Jules F</div>
<div class="c cK" style="left:990.24px;top:490.15px;">JS</div>
<div class="c cK" style="left:1081.70px;top:490.15px;">CAM</div>
<div class="cell dots sat" style="left:1171.56px;top:488.65px;height:20.55px;background-position:0.0px 0.6px;"></div>
<div class="c cK" style="left:1264.62px;top:490.15px;">PK</div>
<div class="c cK" style="left:1356.08px;top:490.15px;">MG</div>
<div class="c cK" style="left:1447.54px;top:490.15px;">CG</div>
<div class="c cK" style="left:1539.00px;top:490.15px;">JPB</div>
<div class="c cK" style="left:1630.46px;top:490.15px;">GL</div>
<div class="cell dots sat" style="left:1720.32px;top:488.65px;height:20.55px;background-position:0.0px 0.6px;"></div>
<div class="c cK" style="left:1813.38px;top:490.15px;width:88.90px;">MO</div>
<div class="hl" style="left:165.50px;top:508.60px;width:1739.14px;"></div>
<div class="lab dark" style="top:510.70px;height:34.55px;background:hotpink;">Mammo AM</div>
<div class="c cH" style="left:167.10px;top:510.70px;">TLD</div>
<div class="c cH" style="left:258.56px;top:510.70px;">LB</div>
<div class="c cP" style="left:258.56px;top:527.70px;">SM</div>
<div class="c cH" style="left:350.02px;top:510.70px;">ED</div>
<div class="c cP" style="left:350.02px;top:527.70px;">AD</div>
<div class="c cH" style="left:441.48px;top:510.70px;">SP</div>
<div class="c cH" style="left:532.94px;top:510.70px;">LN</div>
<div class="c cP" style="left:532.94px;top:527.70px;">JB</div>
<div class="cell dots sat" style="left:622.80px;top:509.20px;height:37.55px;background-position:0.0px 0.6px;"></div>
<div class="c cH" style="left:715.86px;top:510.70px;">TLD</div>
<div class="c cH" style="left:807.32px;top:510.70px;">EA</div>
<div class="c cP" style="left:807.32px;top:527.70px;">RP</div>
<div class="c cH" style="left:898.78px;top:510.70px;">BB</div>
<div class="c cP" style="left:898.78px;top:527.70px;">GB</div>
<div class="c cH" style="left:990.24px;top:510.70px;">RP</div>
<div class="c cP" style="left:990.24px;top:527.70px;">EA</div>
<div class="c cH" style="left:1081.70px;top:510.70px;">EA</div>
<div class="cell dots sat" style="left:1171.56px;top:509.20px;height:37.55px;background-position:0.0px 0.6px;"></div>
<div class="c cH" style="left:1264.62px;top:510.70px;">EA</div>
<div class="c cH" style="left:1356.08px;top:510.70px;">AD</div>
<div class="c cP" style="left:1356.08px;top:527.70px;">ED</div>
<div class="c cH" style="left:1447.54px;top:510.70px;">GB</div>
<div class="c cP" style="left:1447.54px;top:527.70px;">BB</div>
<div class="c cH" style="left:1539.00px;top:510.70px;">ED</div>
<div class="c cP" style="left:1539.00px;top:527.70px;">AD</div>
<div class="c cH" style="left:1630.46px;top:510.70px;">LN</div>
<div class="cell dots sat" style="left:1720.32px;top:509.20px;height:37.55px;background-position:0.0px 0.6px;"></div>
<div class="c cH" style="left:1813.38px;top:510.70px;width:88.90px;">EA</div>
<div class="hl" style="left:165.50px;top:546.15px;width:1739.14px;"></div>
<div class="lab dark" style="top:548.25px;height:51.55px;background:lightpink;">Mammo PM</div>
<div class="c cP" style="left:167.10px;top:548.25px;">DG</div>
<div class="c cP" style="left:167.10px;top:565.25px;">JE</div>
<div class="c cP" style="left:258.56px;top:548.25px;">AD</div>
<div class="c cP" style="left:350.02px;top:548.25px;">SP</div>
<div class="c cP" style="left:441.48px;top:548.25px;">EA</div>
<div class="c cP" style="left:441.48px;top:565.25px;">JB</div>
<div class="c cP" style="left:532.94px;top:548.25px;">NS</div>
<div class="cell dots sat" style="left:622.80px;top:546.75px;height:54.55px;background-position:0.0px 0.6px;"></div>
<div class="c cP" style="left:715.86px;top:548.25px;">TA</div>
<div class="c cP" style="left:715.86px;top:565.25px;">SP</div>
<div class="c cP" style="left:807.32px;top:548.25px;">SM</div>
<div class="c cP" style="left:898.78px;top:548.25px;">EA</div>
<div class="c cP" style="left:990.24px;top:548.25px;">ED</div>
<div class="c cP" style="left:1081.70px;top:548.25px;">SP</div>
<div class="c cP" style="left:1081.70px;top:565.25px;">AD</div>
<div class="cell dots sat" style="left:1171.56px;top:546.75px;height:54.55px;background-position:0.0px 0.6px;"></div>
<div class="c cP" style="left:1264.62px;top:548.25px;">NS</div>
<div class="c cP" style="left:1264.62px;top:565.25px;">SM</div>
<div class="c cP" style="left:1356.08px;top:548.25px;">EA</div>
<div class="c cP" style="left:1447.54px;top:548.25px;">TLD</div>
<div class="cell dots" style="left:1537.40px;top:546.75px;height:54.55px;background-position:0.0px 0.6px;"></div>
<div class="c cP" style="left:1630.46px;top:548.25px;">EA</div>
<div class="c cP" style="left:1630.46px;top:565.25px;">AD</div>
<div class="c cP" style="left:1630.46px;top:582.25px;">RP</div>
<div class="cell dots sat" style="left:1720.32px;top:546.75px;height:54.55px;background-position:0.0px 0.6px;"></div>
<div class="c cP" style="left:1813.38px;top:548.25px;width:88.90px;">GB</div>
<div class="c cP" style="left:1813.38px;top:565.25px;width:88.90px;">VL</div>
<div class="hl" style="left:165.50px;top:600.70px;width:1739.14px;"></div>
<div class="lab b" style="top:602.80px;height:26.55px;background:#000000;color:#ffffff;padding-top:2.0px;">Site 2</div>
<div class="cell dots" style="left:165.50px;top:601.30px;height:29.55px;background-position:0.0px 0.6px;"></div>
<div class="cell dots" style="left:256.96px;top:601.30px;height:29.55px;background-position:0.0px 0.6px;"></div>
<div class="cell dots" style="left:348.42px;top:601.30px;height:29.55px;background-position:0.0px 0.6px;"></div>
<div class="cell dots" style="left:439.88px;top:601.30px;height:29.55px;background-position:0.0px 0.6px;"></div>
<div class="cell dots" style="left:531.34px;top:601.30px;height:29.55px;background-position:0.0px 0.6px;"></div>
<div class="cell dots sat" style="left:622.80px;top:601.30px;height:29.55px;background-position:0.0px 0.6px;"></div>
<div class="cell dots" style="left:714.26px;top:601.30px;height:29.55px;background-position:0.0px 0.6px;"></div>
<div class="cell dots" style="left:805.72px;top:601.30px;height:29.55px;background-position:0.0px 0.6px;"></div>
<div class="cell dots" style="left:897.18px;top:601.30px;height:29.55px;background-position:0.0px 0.6px;"></div>
<div class="cell dots" style="left:988.64px;top:601.30px;height:29.55px;background-position:0.0px 0.6px;"></div>
<div class="cell dots" style="left:1080.10px;top:601.30px;height:29.55px;background-position:0.0px 0.6px;"></div>
<div class="cell dots sat" style="left:1171.56px;top:601.30px;height:29.55px;background-position:0.0px 0.6px;"></div>
<div class="cell dots" style="left:1263.02px;top:601.30px;height:29.55px;background-position:0.0px 0.6px;"></div>
<div class="cell dots" style="left:1354.48px;top:601.30px;height:29.55px;background-position:0.0px 0.6px;"></div>
<div class="cell dots" style="left:1445.94px;top:601.30px;height:29.55px;background-position:0.0px 0.6px;"></div>
<div class="cell dots" style="left:1537.40px;top:601.30px;height:29.55px;background-position:0.0px 0.6px;"></div>
<div class="cell dots" style="left:1628.86px;top:601.30px;height:29.55px;background-position:0.0px 0.6px;"></div>
<div class="cell dots sat" style="left:1720.32px;top:601.30px;height:29.55px;background-position:0.0px 0.6px;"></div>
<div class="cell dots" style="left:1811.78px;top:601.30px;height:29.55px;background-position:0.0px 0.6px;width:92.86px;"></div>
<div class="hl" style="left:165.50px;top:630.25px;width:1739.14px;"></div>
<div class="lab dark" style="top:632.35px;height:17.55px;background:limegreen;padding-top:1.2px;">Fluoroscopy AM</div>
<div class="c cG" style="left:167.10px;top:632.35px;">LN</div>
<div class="c cG" style="left:258.56px;top:632.35px;">SP</div>
<div class="c cG" style="left:350.02px;top:632.35px;">EM</div>
<div class="c cG" style="left:441.48px;top:632.35px;">RP</div>
<div class="c cG" style="left:532.94px;top:632.35px;">DG</div>
<div class="cell dots sat" style="left:622.80px;top:630.85px;height:20.55px;background-position:0.0px 0.6px;"></div>
<div class="c cG" style="left:715.86px;top:632.35px;">HK</div>
<div class="c cG" style="left:807.32px;top:632.35px;">SM</div>
<div class="c cG" style="left:898.78px;top:632.35px;">SP</div>
<div class="c cG" style="left:990.24px;top:632.35px;">AD</div>
<div class="c cG" style="left:1081.70px;top:632.35px;">RP</div>
<div class="cell dots sat" style="left:1171.56px;top:630.85px;height:20.55px;background-position:0.0px 0.6px;"></div>
<div class="c cG" style="left:1264.62px;top:632.35px;">TLD</div>
<div class="c cG" style="left:1356.08px;top:632.35px;">RP</div>
<div class="c cG" style="left:1447.54px;top:632.35px;">AL</div>
<div class="c cG" style="left:1539.00px;top:632.35px;">PL</div>
<div class="c cG" style="left:1630.46px;top:632.35px;">AGS</div>
<div class="cell dots sat" style="left:1720.32px;top:630.85px;height:20.55px;background-position:0.0px 0.6px;"></div>
<div class="c cG" style="left:1813.38px;top:632.35px;width:88.90px;">AD</div>
<div class="hl" style="left:165.50px;top:650.80px;width:1739.14px;"></div>
<div class="lab dark" style="top:652.90px;height:17.55px;background:lightgreen;padding-top:1.2px;">Fluoroscopy PM</div>
<div class="c cL" style="left:167.10px;top:652.90px;">GB</div>
<div class="c cL" style="left:258.56px;top:652.90px;">NS</div>
<div class="c cL" style="left:350.02px;top:652.90px;">HK</div>
<div class="c cL" style="left:441.48px;top:652.90px;">PL</div>
<div class="c cL" style="left:532.94px;top:652.90px;">AL</div>
<div class="cell dots sat" style="left:622.80px;top:651.40px;height:20.55px;background-position:0.0px 0.6px;"></div>
<div class="c cL" style="left:715.86px;top:652.90px;">AL</div>
<div class="c cL" style="left:807.32px;top:652.90px;">SP</div>
<div class="c cL" style="left:898.78px;top:652.90px;">JB</div>
<div class="c cL" style="left:990.24px;top:652.90px;">SN</div>
<div class="c cL" style="left:1081.70px;top:652.90px;">NS</div>
<div class="cell dots sat" style="left:1171.56px;top:651.40px;height:20.55px;background-position:0.0px 0.6px;"></div>
<div class="c cL" style="left:1264.62px;top:652.90px;">JE</div>
<div class="c cL" style="left:1356.08px;top:652.90px;">EM</div>
<div class="c cL" style="left:1447.54px;top:652.90px;">JB</div>
<div class="c cL" style="left:1539.00px;top:652.90px;">TLD</div>
<div class="c cL" style="left:1630.46px;top:652.90px;">NS</div>
<div class="cell dots sat" style="left:1720.32px;top:651.40px;height:20.55px;background-position:0.0px 0.6px;"></div>
<div class="c cL" style="left:1813.38px;top:652.90px;width:88.90px;">DG</div>
<div class="hl" style="left:165.50px;top:671.35px;width:1739.14px;"></div>
<div class="lab dark" style="top:673.45px;height:17.55px;background:orange;padding-top:1.2px;">Scan AM</div>
<div class="cell dots" style="left:165.50px;top:671.95px;height:20.55px;background-position:0.0px 0.6px;"></div>
<div class="c cM" style="left:258.56px;top:673.45px;">BB</div>
<div class="c cM" style="left:350.02px;top:673.45px;">NS</div>
<div class="c cM" style="left:441.48px;top:673.45px;">HK</div>
<div class="cell dots" style="left:531.34px;top:671.95px;height:20.55px;background-position:0.0px 0.6px;"></div>
<div class="cell dots sat" style="left:622.80px;top:671.95px;height:20.55px;background-position:0.0px 0.6px;"></div>
<div class="cell dots" style="left:714.26px;top:671.95px;height:20.55px;background-position:0.0px 0.6px;"></div>
<div class="c cM" style="left:807.32px;top:673.45px;">BB</div>
<div class="c cM" style="left:898.78px;top:673.45px;">NS</div>
<div class="c cM" style="left:990.24px;top:673.45px;">TLD</div>
<div class="cell dots" style="left:1080.10px;top:671.95px;height:20.55px;background-position:0.0px 0.6px;"></div>
<div class="cell dots sat" style="left:1171.56px;top:671.95px;height:20.55px;background-position:0.0px 0.6px;"></div>
<div class="cell dots" style="left:1263.02px;top:671.95px;height:20.55px;background-position:0.0px 0.6px;"></div>
<div class="c cM" style="left:1356.08px;top:673.45px;">LN</div>
<div class="c cM" style="left:1447.54px;top:673.45px;">EM</div>
<div class="c cM" style="left:1539.00px;top:673.45px;">LB</div>
<div class="cell dots" style="left:1628.86px;top:671.95px;height:20.55px;background-position:0.0px 0.6px;"></div>
<div class="cell dots sat" style="left:1720.32px;top:671.95px;height:20.55px;background-position:0.0px 0.6px;"></div>
<div class="cell dots" style="left:1811.78px;top:671.95px;height:20.55px;background-position:0.0px 0.6px;width:92.86px;"></div>
<div class="hl" style="left:165.50px;top:691.90px;width:1739.14px;"></div>
<div class="lab dark" style="top:694.00px;height:17.55px;background:gold;padding-top:1.2px;">Scan PM</div>
<div class="c cY" style="left:167.10px;top:694.00px;">AD</div>
<div class="c cV" style="left:258.56px;top:694.00px;">TLD</div>
<div class="c cV" style="left:350.02px;top:694.00px;">LB</div>
<div class="c cV" style="left:441.48px;top:694.00px;">AD</div>
<div class="c cY" style="left:532.94px;top:694.00px;">SP</div>
<div class="cell dots sat" style="left:622.80px;top:692.50px;height:20.55px;background-position:0.0px 0.6px;"></div>
<div class="c cY" style="left:715.86px;top:694.00px;">EM</div>
<div class="c cV" style="left:807.32px;top:694.00px;">LN</div>
<div class="c cV" style="left:898.78px;top:694.00px;">SM</div>
<div class="c cV" style="left:990.24px;top:694.00px;">GB</div>
<div class="c cY" style="left:1081.70px;top:694.00px;">AL</div>
<div class="cell dots sat" style="left:1171.56px;top:692.50px;height:20.55px;background-position:0.0px 0.6px;"></div>
<div class="c cY" style="left:1264.62px;top:694.00px;">SP</div>
<div class="c cV" style="left:1356.08px;top:694.00px;">GB</div>
<div class="c cV" style="left:1447.54px;top:694.00px;">HK</div>
<div class="c cV" style="left:1539.00px;top:694.00px;">BB</div>
<div class="c cY" style="left:1630.46px;top:694.00px;">SM</div>
<div class="cell dots sat" style="left:1720.32px;top:692.50px;height:20.55px;background-position:0.0px 0.6px;"></div>
<div class="c cY" style="left:1813.38px;top:694.00px;width:88.90px;">RP</div>
<div class="hl" style="left:165.50px;top:712.45px;width:1739.14px;"></div>
<div class="lab dark" style="top:714.55px;height:51.55px;background:lightsalmon;">Radio</div>
<div class="c cS" style="left:167.10px;top:714.55px;">SM</div>
<div class="c cB" style="left:167.10px;top:731.55px;">ED</div>
<div class="c cS" style="left:167.10px;top:748.55px;">PL</div>
<div class="c cS" style="left:258.56px;top:714.55px;">PL</div>
<div class="c cB" style="left:258.56px;top:731.55px;">GB</div>
<div class="c cS" style="left:258.56px;top:748.55px;">RP</div>
<div class="c cS" style="left:350.02px;top:714.55px;">SN</div>
<div class="c cB" style="left:350.02px;top:731.55px;">BB</div>
<div class="c cS" style="left:350.02px;top:748.55px;">VL</div>
<div class="c cS" style="left:441.48px;top:714.55px;">SM</div>
<div class="c cB" style="left:441.48px;top:731.55px;">JB</div>
<div class="c cS" style="left:441.48px;top:748.55px;">NS</div>
<div class="c cS" style="left:532.94px;top:714.55px;">TLD</div>
<div class="c cB" style="left:532.94px;top:731.55px;">HK</div>
<div class="c cS" style="left:532.94px;top:748.55px;">PL</div>
<div class="cell sat" style="left:622.80px;top:713.05px;height:54.55px;background-position:0.0px 0.6px;"></div>
<div class="c cS" style="left:624.40px;top:714.55px;">EA</div>
<div class="c cS" style="left:715.86px;top:714.55px;">JB</div>
<div class="c cB" style="left:715.86px;top:731.55px;">GB</div>
<div class="c cS" style="left:715.86px;top:748.55px;">AD</div>
<div class="c cS" style="left:807.32px;top:714.55px;">EM</div>
<div class="c cB" style="left:807.32px;top:731.55px;">HK</div>
<div class="c cS" style="left:807.32px;top:748.55px;">SN</div>
<div class="c cS" style="left:898.78px;top:714.55px;">PL</div>
<div class="c cB" style="left:898.78px;top:731.55px;">RP</div>
<div class="c cS" style="left:898.78px;top:748.55px;">ED</div>
<div class="c cS" style="left:990.24px;top:714.55px;">LN</div>
<div class="c cB" style="left:990.24px;top:731.55px;">SP</div>
<div class="c cS" style="left:990.24px;top:748.55px;">PL</div>
<div class="c cS" style="left:1081.70px;top:714.55px;">PL</div>
<div class="c cB" style="left:1081.70px;top:731.55px;">JE</div>
<div class="c cS" style="left:1081.70px;top:748.55px;">ED</div>
<div class="cell sat" style="left:1171.56px;top:713.05px;height:54.55px;background-position:0.0px 0.6px;"></div>
<div class="c cS" style="left:1173.16px;top:714.55px;">EA</div>
<div class="c cS" style="left:1264.62px;top:714.55px;">AGS</div>
<div class="c cB" style="left:1264.62px;top:731.55px;">AD</div>
<div class="c cS" style="left:1264.62px;top:748.55px;">ED</div>
<div class="c cS" style="left:1356.08px;top:714.55px;">AL</div>
<div class="c cB" style="left:1356.08px;top:731.55px;">LB</div>
<div class="c cS" style="left:1356.08px;top:748.55px;">SM</div>
<div class="c cS" style="left:1447.54px;top:714.55px;">NS</div>
<div class="c cB" style="left:1447.54px;top:731.55px;">RP</div>
<div class="c cS" style="left:1447.54px;top:748.55px;">PL</div>
<div class="c cS" style="left:1539.00px;top:714.55px;">GB</div>
<div class="c cB" style="left:1539.00px;top:731.55px;">SM</div>
<div class="c cS" style="left:1539.00px;top:748.55px;">AGS</div>
<div class="c cS" style="left:1630.46px;top:714.55px;">TLD</div>
<div class="c cB" style="left:1630.46px;top:731.55px;">PL</div>
<div class="c cS" style="left:1630.46px;top:748.55px;">ED</div>
<div class="cell sat" style="left:1720.32px;top:713.05px;height:54.55px;background-position:0.0px 0.6px;"></div>
<div class="c cS" style="left:1721.92px;top:714.55px;">EA</div>
<div class="c cS" style="left:1813.38px;top:714.55px;width:88.90px;">SP</div>
<div class="c cB" style="left:1813.38px;top:731.55px;width:88.90px;">NS</div>
<div class="c cS" style="left:1813.38px;top:748.55px;width:88.90px;">EM</div>
<div class="hl" style="left:165.50px;top:767.00px;width:1739.14px;"></div>
<div class="lab dark" style="top:769.10px;height:34.55px;background:khaki;">Abdominal</div>
<div class="c cL" style="left:167.10px;top:769.10px;">JS</div>
<div class="c cK" style="left:167.10px;top:786.10px;">MG</div>
<div class="c cL" style="left:258.56px;top:769.10px;">Jules F</div>
<div class="c cK" style="left:258.56px;top:786.10px;">PK</div>
<div class="c cL" style="left:350.02px;top:769.10px;">JS</div>
<div class="c cK" style="left:350.02px;top:786.10px;">AE</div>
<div class="c cL" style="left:441.48px;top:769.10px;">CAM</div>
<div class="c cK" style="left:441.48px;top:786.10px;">TA</div>
<div class="c cL" style="left:532.94px;top:769.10px;">FPO</div>
<div class="c cK" style="left:532.94px;top:786.10px;">CAM</div>
<div class="cell dots sat" style="left:622.80px;top:767.60px;height:37.55px;background-position:0.0px 0.6px;"></div>
<div class="c cL" style="left:715.86px;top:769.10px;">PK</div>
<div class="c cK" style="left:715.86px;top:786.10px;">GL</div>
<div class="c cL" style="left:807.32px;top:769.10px;">JPB</div>
<div class="c cK" style="left:807.32px;top:786.10px;">JS</div>
<div class="c cL" style="left:898.78px;top:769.10px;">AE</div>
<div class="c cK" style="left:898.78px;top:786.10px;">Jules F</div>
<div class="c cL" style="left:990.24px;top:769.10px;">MO</div>
<div class="c cK" style="left:990.24px;top:786.10px;">JS</div>
<div class="c cL" style="left:1081.70px;top:769.10px;">GL</div>
<div class="c cK" style="left:1081.70px;top:786.10px;">CAM</div>
<div class="cell dots sat" style="left:1171.56px;top:767.60px;height:37.55px;background-position:0.0px 0.6px;"></div>
<div class="c cL" style="left:1264.62px;top:769.10px;">JS</div>
<div class="c cK" style="left:1264.62px;top:786.10px;">PK</div>
<div class="c cL" style="left:1356.08px;top:769.10px;">Jules F</div>
<div class="c cK" style="left:1356.08px;top:786.10px;">MG</div>
<div class="c cL" style="left:1447.54px;top:769.10px;">JS</div>
<div class="c cK" style="left:1447.54px;top:786.10px;">CG</div>
<div class="c cL" style="left:1539.00px;top:769.10px;">MO</div>
<div class="c cK" style="left:1539.00px;top:786.10px;">JPB</div>
<div class="c cL" style="left:1630.46px;top:769.10px;">FPO</div>
<div class="c cK" style="left:1630.46px;top:786.10px;">GL</div>
<div class="cell dots sat" style="left:1720.32px;top:767.60px;height:37.55px;background-position:0.0px 0.6px;"></div>
<div class="c cL" style="left:1813.38px;top:769.10px;width:88.90px;">AE</div>
<div class="c cK" style="left:1813.38px;top:786.10px;width:88.90px;">MO</div>
<div class="hl" style="left:165.50px;top:804.55px;width:1739.14px;"></div>
<div class="lab" style="top:806.65px;height:34.55px;background:darkslategray;color:#ffffff;padding-top:4.8px;">CT 2</div>
<div class="c cD" style="left:167.10px;top:806.65px;">VL</div>
<div class="c cD" style="left:167.10px;top:823.65px;">AL</div>
<div class="c cD" style="left:258.56px;top:806.65px;color:#b4c1be;">JE</div>
<div class="c cD" style="left:350.02px;top:806.65px;color:#b4c1be;">JE</div>
<div class="c cD" style="left:441.48px;top:806.65px;">EM</div>
<div class="c cD" style="left:532.94px;top:806.65px;">EM</div>
<div class="c cD" style="left:532.94px;top:823.65px;">AGS</div>
<div class="cell dots sat" style="left:622.80px;top:805.15px;height:37.55px;background-position:0.0px 0.6px;"></div>
<div class="c cD" style="left:715.86px;top:806.65px;color:#b4c1be;">JE</div>
<div class="c cD" style="left:807.32px;top:806.65px;color:#b4c1be;">JE</div>
<div class="c cD" style="left:898.78px;top:806.65px;">EM</div>
<div class="c cD" style="left:990.24px;top:806.65px;">EM</div>
<div class="c cD" style="left:1081.70px;top:806.65px;">SM</div>
<div class="c cD" style="left:1081.70px;top:823.65px;">AGS</div>
<div class="cell dots sat" style="left:1171.56px;top:805.15px;height:37.55px;background-position:0.0px 0.6px;"></div>
<div class="c cD" style="left:1264.62px;top:806.65px;">VL</div>
<div class="c cD" style="left:1356.08px;top:806.65px;color:#b4c1be;">JE</div>
<div class="c cD" style="left:1447.54px;top:806.65px;">VL</div>
<div class="c cD" style="left:1539.00px;top:806.65px;">JB</div>
<div class="c cD" style="left:1630.46px;top:806.65px;">VL</div>
<div class="cell dots sat" style="left:1720.32px;top:805.15px;height:37.55px;background-position:0.0px 0.6px;"></div>
<div class="c cD" style="left:1813.38px;top:806.65px;width:88.90px;">SM</div>
<div class="c cD" style="left:1813.38px;top:823.65px;width:88.90px;">AL</div>
<div class="hl" style="left:165.50px;top:842.10px;width:1739.14px;"></div>
<div class="lab dark" style="top:844.20px;height:34.55px;background:#ffffff;padding-top:4.6px;color:rgba(0,0,0,.68);">Diag</div>
<div class="c cN" style="left:167.10px;top:844.20px;">SM</div>
<div class="c cN" style="left:258.56px;top:844.20px;">SM</div>
<div class="c cN" style="left:350.02px;top:844.20px;">SM</div>
<div class="c cN" style="left:441.48px;top:844.20px;">SM</div>
<div class="c cN" style="left:532.94px;top:844.20px;">SM</div>
<div class="cell sat" style="left:622.80px;top:842.70px;height:37.55px;background-position:0.0px 0.6px;"></div>
<div class="c cN" style="left:624.40px;top:844.20px;">SM</div>
<div class="c cN" style="left:715.86px;top:844.20px;">JB</div>
<div class="c cN" style="left:715.86px;top:861.20px;">AD</div>
<div class="c cN" style="left:807.32px;top:844.20px;">JB</div>
<div class="c cN" style="left:807.32px;top:861.20px;">AD</div>
<div class="c cN" style="left:898.78px;top:844.20px;">JB</div>
<div class="c cN" style="left:898.78px;top:861.20px;">AD</div>
<div class="c cN" style="left:990.24px;top:844.20px;">JB</div>
<div class="c cN" style="left:990.24px;top:861.20px;">AD</div>
<div class="c cN" style="left:1081.70px;top:844.20px;">JB</div>
<div class="c cN" style="left:1081.70px;top:861.20px;">AD</div>
<div class="cell sat" style="left:1171.56px;top:842.70px;height:37.55px;background-position:0.0px 0.6px;"></div>
<div class="c cN" style="left:1173.16px;top:844.20px;">JB</div>
<div class="c cN" style="left:1173.16px;top:861.20px;">AD</div>
<div class="c cN" style="left:1264.62px;top:844.20px;">JB</div>
<div class="c cN" style="left:1264.62px;top:861.20px;">AD</div>
<div class="c cN" style="left:1356.08px;top:844.20px;">JB</div>
<div class="c cN" style="left:1356.08px;top:861.20px;">AD</div>
<div class="c cN" style="left:1447.54px;top:844.20px;">JB</div>
<div class="c cN" style="left:1447.54px;top:861.20px;">AD</div>
<div class="c cN" style="left:1539.00px;top:844.20px;">JB</div>
<div class="c cN" style="left:1539.00px;top:861.20px;">AD</div>
<div class="c cN" style="left:1630.46px;top:844.20px;">JB</div>
<div class="c cN" style="left:1630.46px;top:861.20px;">AD</div>
<div class="cell sat" style="left:1720.32px;top:842.70px;height:37.55px;background-position:0.0px 0.6px;"></div>
<div class="c cN" style="left:1721.92px;top:844.20px;">JB</div>
<div class="c cN" style="left:1721.92px;top:861.20px;">AD</div>
<div class="cell dots" style="left:1811.78px;top:842.70px;height:37.55px;background-position:0.0px 0.6px;width:92.86px;"></div>
<div class="hl" style="left:165.50px;top:879.65px;width:1739.14px;"></div>
<div class="lab b" style="top:881.75px;height:26.55px;background:#000000;color:#ffffff;padding-top:1.4px;">OFF</div>
<div class="cell dots" style="left:165.50px;top:880.25px;height:29.55px;background-position:0.0px 0.6px;"></div>
<div class="cell dots" style="left:256.96px;top:880.25px;height:29.55px;background-position:0.0px 0.6px;"></div>
<div class="cell dots" style="left:348.42px;top:880.25px;height:29.55px;background-position:0.0px 0.6px;"></div>
<div class="cell dots" style="left:439.88px;top:880.25px;height:29.55px;background-position:0.0px 0.6px;"></div>
<div class="cell dots" style="left:531.34px;top:880.25px;height:29.55px;background-position:0.0px 0.6px;"></div>
<div class="cell dots sat" style="left:622.80px;top:880.25px;height:29.55px;background-position:0.0px 0.6px;"></div>
<div class="cell dots" style="left:714.26px;top:880.25px;height:29.55px;background-position:0.0px 0.6px;"></div>
<div class="cell dots" style="left:805.72px;top:880.25px;height:29.55px;background-position:0.0px 0.6px;"></div>
<div class="cell dots" style="left:897.18px;top:880.25px;height:29.55px;background-position:0.0px 0.6px;"></div>
<div class="cell dots" style="left:988.64px;top:880.25px;height:29.55px;background-position:0.0px 0.6px;"></div>
<div class="cell dots" style="left:1080.10px;top:880.25px;height:29.55px;background-position:0.0px 0.6px;"></div>
<div class="cell dots sat" style="left:1171.56px;top:880.25px;height:29.55px;background-position:0.0px 0.6px;"></div>
<div class="cell dots" style="left:1263.02px;top:880.25px;height:29.55px;background-position:0.0px 0.6px;"></div>
<div class="cell dots" style="left:1354.48px;top:880.25px;height:29.55px;background-position:0.0px 0.6px;"></div>
<div class="cell dots" style="left:1445.94px;top:880.25px;height:29.55px;background-position:0.0px 0.6px;"></div>
<div class="cell dots" style="left:1537.40px;top:880.25px;height:29.55px;background-position:0.0px 0.6px;"></div>
<div class="cell dots" style="left:1628.86px;top:880.25px;height:29.55px;background-position:0.0px 0.6px;"></div>
<div class="cell dots sat" style="left:1720.32px;top:880.25px;height:29.55px;background-position:0.0px 0.6px;"></div>
<div class="cell dots" style="left:1811.78px;top:880.25px;height:29.55px;background-position:0.0px 0.6px;width:92.86px;"></div>
<div class="hl" style="left:165.50px;top:909.20px;width:1739.14px;"></div>
<div class="lab" style="top:911.30px;height:34.55px;background:midnightblue;color:#ffffff;padding-top:2.4px;">Vac</div>
<div class="c cN" style="left:167.10px;top:911.30px;">SM</div>
<div class="c cN" style="left:258.56px;top:911.30px;">SM</div>
<div class="c cN" style="left:350.02px;top:911.30px;">SM</div>
<div class="c cN" style="left:441.48px;top:911.30px;">SM</div>
<div class="c cN" style="left:532.94px;top:911.30px;">SM</div>
<div class="cell sat" style="left:622.80px;top:909.80px;height:37.55px;background-position:0.0px 0.6px;"></div>
<div class="c cN" style="left:624.40px;top:911.30px;">SM</div>
<div class="c cN" style="left:715.86px;top:911.30px;">JB</div>
<div class="c cN" style="left:715.86px;top:928.30px;">AD</div>
<div class="c cN" style="left:807.32px;top:911.30px;">JB</div>
<div class="c cN" style="left:807.32px;top:928.30px;">AD</div>
<div class="c cN" style="left:898.78px;top:911.30px;">JB</div>
<div class="c cN" style="left:898.78px;top:928.30px;">AD</div>
<div class="c cN" style="left:990.24px;top:911.30px;">JB</div>
<div class="c cN" style="left:990.24px;top:928.30px;">AD</div>
<div class="c cN" style="left:1081.70px;top:911.30px;">JB</div>
<div class="c cN" style="left:1081.70px;top:928.30px;">AD</div>
<div class="cell sat" style="left:1171.56px;top:909.80px;height:37.55px;background-position:0.0px 0.6px;"></div>
<div class="c cN" style="left:1173.16px;top:911.30px;">JB</div>
<div class="c cN" style="left:1173.16px;top:928.30px;">AD</div>
<div class="c cN" style="left:1264.62px;top:911.30px;">JB</div>
<div class="c cN" style="left:1264.62px;top:928.30px;">AD</div>
<div class="c cN" style="left:1356.08px;top:911.30px;">JB</div>
<div class="c cN" style="left:1356.08px;top:928.30px;">AD</div>
<div class="c cN" style="left:1447.54px;top:911.30px;">JB</div>
<div class="c cN" style="left:1447.54px;top:928.30px;">AD</div>
<div class="c cN" style="left:1539.00px;top:911.30px;">JB</div>
<div class="c cN" style="left:1539.00px;top:928.30px;">AD</div>
<div class="c cN" style="left:1630.46px;top:911.30px;">JB</div>
<div class="c cN" style="left:1630.46px;top:928.30px;">AD</div>
<div class="cell sat" style="left:1720.32px;top:909.80px;height:37.55px;background-position:0.0px 0.6px;"></div>
<div class="c cN" style="left:1721.92px;top:911.30px;">JB</div>
<div class="c cN" style="left:1721.92px;top:928.30px;">AD</div>
<div class="cell dots" style="left:1811.78px;top:909.80px;height:37.55px;background-position:0.0px 0.6px;width:92.86px;"></div>
<div class="hl" style="left:165.50px;top:946.75px;width:1739.14px;"></div>
<div class="lab" style="top:948.85px;height:26.55px;background:midnightblue;color:#ffffff;padding-top:1.4px;">Conf</div>
<div class="cell dots" style="left:165.50px;top:947.35px;height:29.55px;background-position:0.0px 0.6px;"></div>
<div class="cell dots" style="left:256.96px;top:947.35px;height:29.55px;background-position:0.0px 0.6px;"></div>
<div class="cell dots" style="left:348.42px;top:947.35px;height:29.55px;background-position:0.0px 0.6px;"></div>
<div class="cell dots" style="left:439.88px;top:947.35px;height:29.55px;background-position:0.0px 0.6px;"></div>
<div class="cell dots" style="left:531.34px;top:947.35px;height:29.55px;background-position:0.0px 0.6px;"></div>
<div class="cell dots sat" style="left:622.80px;top:947.35px;height:29.55px;background-position:0.0px 0.6px;"></div>
<div class="cell dots" style="left:714.26px;top:947.35px;height:29.55px;background-position:0.0px 0.6px;"></div>
<div class="cell dots" style="left:805.72px;top:947.35px;height:29.55px;background-position:0.0px 0.6px;"></div>
<div class="cell dots" style="left:897.18px;top:947.35px;height:29.55px;background-position:0.0px 0.6px;"></div>
<div class="cell dots" style="left:988.64px;top:947.35px;height:29.55px;background-position:0.0px 0.6px;"></div>
<div class="cell dots" style="left:1080.10px;top:947.35px;height:29.55px;background-position:0.0px 0.6px;"></div>
<div class="cell dots sat" style="left:1171.56px;top:947.35px;height:29.55px;background-position:0.0px 0.6px;"></div>
<div class="cell dots" style="left:1263.02px;top:947.35px;height:29.55px;background-position:0.0px 0.6px;"></div>
<div class="cell dots" style="left:1354.48px;top:947.35px;height:29.55px;background-position:0.0px 0.6px;"></div>
<div class="cell dots" style="left:1445.94px;top:947.35px;height:29.55px;background-position:0.0px 0.6px;"></div>
<div class="cell dots" style="left:1537.40px;top:947.35px;height:29.55px;background-position:0.0px 0.6px;"></div>
<div class="cell dots" style="left:1628.86px;top:947.35px;height:29.55px;background-position:0.0px 0.6px;"></div>
<div class="cell dots sat" style="left:1720.32px;top:947.35px;height:29.55px;background-position:0.0px 0.6px;"></div>
<div class="cell dots" style="left:1811.78px;top:947.35px;height:29.55px;background-position:0.0px 0.6px;width:92.86px;"></div>
<div class="hl" style="left:165.50px;top:976.30px;width:1739.14px;"></div>
<div class="vl" style="left:164.70px;top:107.6px;height:869.3px;"></div>
<div class="vl" style="left:256.16px;top:107.6px;height:869.3px;"></div>
<div class="vl" style="left:347.62px;top:107.6px;height:869.3px;"></div>
<div class="vl" style="left:439.08px;top:107.6px;height:869.3px;"></div>
<div class="vl" style="left:530.54px;top:107.6px;height:869.3px;"></div>
<div class="vl" style="left:622.00px;top:107.6px;height:869.3px;"></div>
<div class="vl" style="left:713.46px;top:107.6px;height:869.3px;"></div>
<div class="vl" style="left:804.92px;top:107.6px;height:869.3px;"></div>
<div class="vl" style="left:896.38px;top:107.6px;height:869.3px;"></div>
<div class="vl" style="left:987.84px;top:107.6px;height:869.3px;"></div>
<div class="vl" style="left:1079.30px;top:107.6px;height:869.3px;"></div>
<div class="vl" style="left:1170.76px;top:107.6px;height:869.3px;"></div>
<div class="vl" style="left:1262.22px;top:107.6px;height:869.3px;"></div>
<div class="vl" style="left:1353.68px;top:107.6px;height:869.3px;"></div>
<div class="vl" style="left:1445.14px;top:107.6px;height:869.3px;"></div>
<div class="vl" style="left:1536.60px;top:107.6px;height:869.3px;"></div>
<div class="vl" style="left:1628.06px;top:107.6px;height:869.3px;"></div>
<div class="vl" style="left:1719.52px;top:107.6px;height:869.3px;"></div>
<div class="vl" style="left:1810.98px;top:107.6px;height:869.3px;"></div>
<div class="vl" style="left:1903.84px;top:107.6px;height:869.3px;"></div>
<div style="left:17.0px;top:976.9px;width:147.7px;height:39.3px;background:#f4f5f7;"></div>
<div style="left:164.7px;top:976.9px;width:1.2px;height:39.3px;background:#e4e6ea;"></div>
<div style="left:13.2px;top:1016.2px;width:1893.6px;height:2px;background:#e7e8ec;"></div>
<div style="left:32.3px;top:1024.6px;font-size:11.6px;line-height:16px;font-weight:bold;color:#2b2d33;white-space:nowrap;-webkit-text-stroke:0.2px;">304 Assignments</div>
<!-- lightning -->
<div style="left:803px;top:1022px;width:25px;height:23px;border-radius:6px;background:#fffffa;box-shadow:0 1px 2px rgba(0,0,0,.04);"></div>
<svg style="position:absolute;left:810.5px;top:1027.2px;" width="9" height="13" viewBox="0 0 12 15" preserveAspectRatio="none"><path d="M7.4 0.6L2.2 8.2H5.6L4.6 14.4L9.8 6.4H6.4Z" fill="#1c1b5c"/></svg>
<div style="left:842.9px;top:1024px;width:1.9px;height:18px;background:#e7e9ed;"></div>
<svg style="position:absolute;left:865.5px;top:1027px;" width="13" height="13" viewBox="0 0 15 15" fill="none" stroke="#28277a" stroke-width="2" stroke-linecap="round"><circle cx="5.9" cy="5.9" r="3.9"/><path d="M9 9L13 13"/></svg>
<div style="left:900.5px;top:1024px;width:1.9px;height:18px;background:#e7e9ed;"></div>
<div style="left:916px;top:1021.5px;width:27px;height:24px;border-radius:6px;background:#fff;box-shadow:0 1px 2.5px rgba(0,0,0,.07);"></div>
<div style="left:945.5px;top:1021.5px;width:27px;height:24px;border-radius:6px;background:#fff;box-shadow:0 1px 2.5px rgba(0,0,0,.07);"></div>
<div style="left:976px;top:1021.5px;width:27px;height:24px;border-radius:6px;background:#fff;box-shadow:0 1px 2.5px rgba(0,0,0,.07);"></div>
<div style="left:1012.5px;top:1021.5px;width:28px;height:24px;border-radius:6px;background:#fff;box-shadow:0 1px 2.5px rgba(0,0,0,.07);"></div>
<svg style="position:absolute;left:922px;top:1026px;" width="15" height="15" viewBox="0 0 15 15" fill="none" stroke="#a6a6ab" stroke-width="1.5" stroke-linecap="round"><path d="M3.7 7.5H11.3"/></svg>
<svg style="position:absolute;left:951px;top:1026px;" width="15" height="15" viewBox="0 0 15 15" fill="none" stroke="#a6a6ab" stroke-width="1.5" stroke-linecap="round"><path d="M3.7 7.5H11.3M7.5 3.7V11.3"/></svg>
<svg style="position:absolute;left:983px;top:1027.2px;" width="13" height="13" viewBox="0 0 14 14" fill="none" stroke="#7a7a7f" stroke-width="1.45" stroke-linecap="round" stroke-linejoin="round"><rect x="1" y="1.2" width="12" height="11.6" rx="2"/><path d="M3.6 10.4L8.4 5.6M5.6 3.8H3.6V5.8M10.4 8.2V10.4H8.2" /></svg>
<svg style="position:absolute;left:1019.5px;top:1029.4px;" width="14.4" height="8.4" viewBox="0 0 16 9" fill="none" stroke="#77777c" stroke-width="1.5" stroke-linejoin="round"><rect x="1" y="1" width="13.6" height="6.6" rx="1.2"/><path d="M1 2.4H14.6" stroke-width="2"/></svg>
<div style="left:1054.1px;top:1024px;width:1.9px;height:18px;background:#e7e9ed;"></div>
<div style="left:1069px;top:1021.5px;width:52px;height:24px;border-radius:6px;background:#fff;box-shadow:0 1px 2.5px rgba(0,0,0,.08);"></div>
<div style="left:1076.5px;top:1027.5px;width:12.5px;height:12px;background:#8b8b8e;border-radius:1px;"></div>
<svg style="position:absolute;left:1100px;top:1028px;" width="14" height="12" viewBox="0 0 14 12"><rect x="0.4" y="0.8" width="13" height="10.2" rx="1" fill="#9494bd"/><path d="M0.4 3.6H13.4M0.4 6.4H13.4M0.4 9.2H13.4M4.6 3.6V11.4M9 3.6V11.4" stroke="#d9d9ea" stroke-width="0.9"/></svg>
<div style="left:1822px;top:1021.5px;width:70px;height:24px;border-radius:6px;background:#fff;box-shadow:0 1px 2.5px rgba(0,0,0,.08);"></div>
<div style="left:1833.5px;top:1024.6px;font-size:11.8px;line-height:16px;font-weight:bold;color:#33bd8d;white-space:nowrap;">Validate</div>

<div style="left:0;top:1078px;width:1920px;height:4px;background:#fbfbfc;"></div>
</div></body></html>
